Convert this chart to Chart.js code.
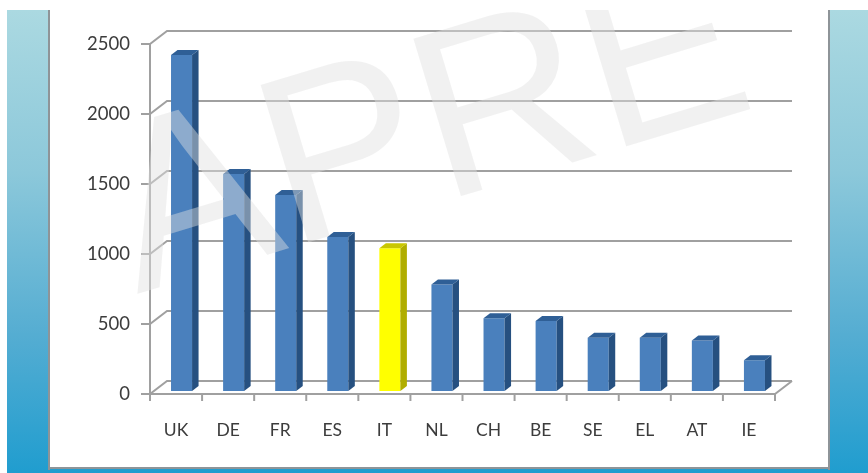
<!DOCTYPE html>
<html><head><meta charset="utf-8">
<style>html,body{margin:0;padding:0;background:#fff;overflow:hidden}
#wrap{width:868px;height:473px;position:relative}
canvas{display:block;filter:blur(0.65px)}</style>
<script src="https://cdn.jsdelivr.net/npm/chart.js@4"></script>
</head><body><div id="wrap"><canvas id="c" width="868" height="473"></canvas></div>
<script>
const categories = ['UK','DE','FR','ES','IT','NL','CH','BE','SE','EL','AT','IE'];
const values = [2400,1550,1400,1100,1020,760,520,500,380,380,360,220];
const frontColors = ['#4a80bd','#4a80bd','#4a80bd','#4a80bd','#ffff00','#4a80bd','#4a80bd','#4a80bd','#4a80bd','#4a80bd','#4a80bd','#4a80bd'];
const sideColors = ['#265080','#265080','#265080','#265080','#b0ad00','#265080','#265080','#265080','#265080','#265080','#265080','#265080'];
const topColors = ['#2f5f96','#2f5f96','#2f5f96','#2f5f96','#c9c700','#2f5f96','#2f5f96','#2f5f96','#2f5f96','#2f5f96','#2f5f96','#2f5f96'];
const yTicks = [0,500,1000,1500,2000,2500];
const watermark = 'APRE';

const DEPTH_X = 17, DEPTH_Y = 13;   // wall offset of the 3D frame
const BAR_SHIFT_X = 5.5, BAR_SHIFT_Y = -3; // bars stand inside the floor
const FACE_X = 6.5, FACE_Y = 5;     // bar extrusion

const backdrop = {
  id:'backdrop',
  beforeDraw(chart){
    const {ctx,width,height} = chart;
    ctx.save();
    ctx.fillStyle='#fff'; ctx.fillRect(0,0,width,height);
    const g = ctx.createLinearGradient(0,10,0,height);
    g.addColorStop(0,'#abd9e1'); g.addColorStop(.35,'#8cc8da');
    g.addColorStop(.7,'#55add2'); g.addColorStop(1,'#209dcf');
    ctx.fillStyle=g; ctx.fillRect(7,10,width-7,height-10);
    ctx.fillStyle='#fff'; ctx.fillRect(49,0,780,468);
    ctx.fillStyle='#8e9498';
    ctx.fillRect(48,10,2,460); ctx.fillRect(828,10,2,460); ctx.fillRect(48,467,782,2);
    ctx.restore();
  }
};
const frame = {
  id:'frame',
  beforeDatasetsDraw(chart){
    const {ctx,chartArea:a,scales:{x,y}} = chart;
    ctx.save(); ctx.strokeStyle='#a0a0a0'; ctx.lineWidth=2;
    yTicks.forEach(v=>{
      const p=y.getPixelForValue(v);
      ctx.beginPath();
      ctx.moveTo(a.left-9,p); ctx.lineTo(a.left,p);
      ctx.lineTo(a.left+DEPTH_X,p-DEPTH_Y); ctx.lineTo(a.right+DEPTH_X,p-DEPTH_Y);
      ctx.stroke();
    });
    ctx.beginPath();
    ctx.moveTo(a.left,y.getPixelForValue(2500)); ctx.lineTo(a.left,a.bottom);
    ctx.lineTo(a.right,a.bottom); ctx.lineTo(a.right+DEPTH_X,a.bottom-DEPTH_Y);
    ctx.stroke();
    for(let i=0;i<=categories.length;i++){
      const px = a.left+(a.right-a.left)*i/categories.length;
      ctx.beginPath(); ctx.moveTo(px,a.bottom); ctx.lineTo(px,a.bottom+7); ctx.stroke();
    }
    ctx.restore();
    ctx.save(); ctx.translate(BAR_SHIFT_X,BAR_SHIFT_Y);
  },
  afterDatasetsDraw(chart){
    const {ctx} = chart;
    chart.getDatasetMeta(0).data.forEach((b,i)=>{
      const l=b.x-b.width/2, r=b.x+b.width/2, t=b.y, base=b.base;
      ctx.fillStyle=sideColors[i];
      ctx.beginPath(); ctx.moveTo(r,t); ctx.lineTo(r+FACE_X,t-FACE_Y);
      ctx.lineTo(r+FACE_X,base-FACE_Y); ctx.lineTo(r,base); ctx.closePath(); ctx.fill();
      ctx.fillStyle=topColors[i];
      ctx.beginPath(); ctx.moveTo(l,t); ctx.lineTo(l+FACE_X,t-FACE_Y);
      ctx.lineTo(r+FACE_X,t-FACE_Y); ctx.lineTo(r,t); ctx.closePath(); ctx.fill();
    });
    ctx.restore();
  }
};
const mark = {
  id:'mark',
  afterDraw(chart){
    const {ctx} = chart;
    ctx.save();
    ctx.beginPath(); ctx.rect(50,10,778,457); ctx.clip();
    ctx.translate(137,294); ctx.rotate(-16.8*Math.PI/180);
    ctx.font='239px "Liberation Sans"'; ctx.textAlign='left'; ctx.textBaseline='alphabetic';
    ctx.fillStyle='rgba(225,225,225,0.45)';
    ctx.fillText(watermark,0,0);
    ctx.restore();
  }
};
new Chart(document.getElementById('c'),{
  type:'bar',
  data:{labels:categories,datasets:[{data:values,backgroundColor:frontColors,
    categoryPercentage:1,barPercentage:0.404,borderWidth:0}]},
  plugins:[backdrop,frame,mark],
  options:{
    responsive:false,animation:false,devicePixelRatio:1,
    layout:{padding:{left:0,top:44,right:93,bottom:0}},
    plugins:{legend:{display:false},tooltip:{enabled:false},title:{display:false}},
    scales:{
      x:{grid:{display:false,drawTicks:false},border:{display:false},
        afterFit(s){s.height=79;},
        ticks:{padding:26,maxRotation:0,autoSkip:false,color:'#3c3c3c',font:{family:'Lato',size:17.5}}},
      y:{min:0,max:2500,grid:{display:false,drawTicks:false},border:{display:false},
        afterFit(s){s.width=150;},
        afterBuildTicks(s){s.ticks=yTicks.map(v=>({value:v}));},
        ticks:{padding:20,color:'#3c3c3c',font:{family:'Lato',size:18.5},callback:v=>String(v)}}
    }
  }
});
</script></body></html>
